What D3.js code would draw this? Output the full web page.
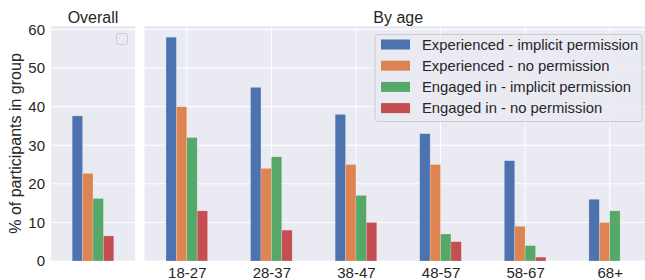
<!DOCTYPE html>
<html>
<head>
<meta charset="utf-8">
<script src="https://cdn.jsdelivr.net/npm/d3@7"></script>
<style>
  body { margin: 0; background: #fff; }
  svg { display: block; font-family: "Liberation Sans", Arial, sans-serif; }
</style>
</head>
<body>
<svg id="chart" width="645" height="280"></svg>
<script>
// ---- data ----
const seriesNames = [
  "Experienced - implicit permission",
  "Experienced - no permission",
  "Engaged in - implicit permission",
  "Engaged in - no permission"
];
const colors = ["#4C72B0", "#DD8452", "#55A868", "#C44E52"];
const overallValues = [37.6, 22.7, 16.2, 6.5];
const ageGroups = ["18-27", "28-37", "38-47", "48-57", "58-67", "68+"];
const expImplicit = [58, 45, 38, 33, 26, 16];
const expNoPerm   = [40, 24, 25, 25, 9, 10];
const engImplicit = [32, 27, 17, 7, 4, 13];
const engNoPerm   = [13, 8, 10, 5, 1, 0];
const yTicks = [0, 10, 20, 30, 40, 50, 60];

const ageSeries = [expImplicit, expNoPerm, engImplicit, engNoPerm];

const svg = d3.select("#chart");
const textColor = "#262626";
const bg = "#EAEAF2";

const plotTop = 26, plotBottom = 261;
const y = d3.scaleLinear().domain([0, 60.9]).range([plotBottom, plotTop]);

// panels
const p1 = { x0: 51, x1: 135 };
const p2 = { x0: 144.5, x1: 652 };

function panel(p) {
  const g = svg.append("g");
  g.append("rect").attr("x", p.x0).attr("y", plotTop)
    .attr("width", p.x1 - p.x0).attr("height", plotBottom - plotTop).attr("fill", bg);
  g.selectAll("line.h").data(yTicks).join("line")
    .attr("x1", p.x0).attr("x2", p.x1)
    .attr("y1", d => y(d)).attr("y2", d => y(d))
    .attr("stroke", "#fff").attr("stroke-width", 1);
  return g;
}

const g1 = panel(p1);
const g2 = panel(p2);

// Overall panel
const xo = d3.scaleBand().domain(["Overall"]).range([p1.x0, p1.x1]).paddingInner(0).paddingOuter(0);
const barW = 10.4;
const cOverall = xo("Overall") + xo.bandwidth() / 2;
g1.selectAll("rect.bar").data(overallValues).join("rect")
  .attr("x", (d, i) => cOverall + (i - 2) * barW)
  .attr("width", barW)
  .attr("y", d => y(d))
  .attr("height", d => y(0) - y(d))
  .attr("fill", (d, i) => colors[i])
  .attr("stroke", "#fff").attr("stroke-opacity", 0.35).attr("stroke-width", 0.6);

// By age panel
const xa = d3.scalePoint().domain(ageGroups).range([p2.x0, p2.x1]).padding(0.5);
// vertical grid
g2.selectAll("line.v").data(ageGroups).join("line")
  .attr("x1", d => xa(d)).attr("x2", d => xa(d))
  .attr("y1", plotTop).attr("y2", plotBottom)
  .attr("stroke", "#fff").attr("stroke-width", 1);

ageSeries.forEach((vals, si) => {
  g2.selectAll("rect.s" + si).data(vals.map((v, i) => ({ v, cat: ageGroups[i] })))
    .join("rect")
    .attr("class", "s" + si)
    .attr("x", d => xa(d.cat) + (si - 2) * barW)
    .attr("width", barW)
    .attr("y", d => y(d.v))
    .attr("height", d => y(0) - y(d.v))
    .attr("fill", colors[si])
    .attr("stroke", "#fff").attr("stroke-opacity", 0.35).attr("stroke-width", 0.6);
});

// y axis (left panel)
const yAxis = d3.axisLeft(y).tickValues(yTicks).tickSize(0).tickPadding(6);
const ya = svg.append("g").attr("transform", `translate(${p1.x0},0)`).call(yAxis);
ya.select(".domain").remove();
ya.selectAll("text").attr("fill", textColor).style("font-size", "15px")
  .style("font-family", '"Liberation Sans", Arial, sans-serif');

// x axis (by age)
const xAxis = d3.axisBottom(xa).tickSize(0).tickPadding(6);
const xg = svg.append("g").attr("transform", `translate(0,${plotBottom})`).call(xAxis);
xg.select(".domain").remove();
xg.selectAll("text").attr("fill", textColor).style("font-size", "15px")
  .style("font-family", '"Liberation Sans", Arial, sans-serif');

// titles
svg.append("text").attr("x", (p1.x0 + p1.x1) / 2).attr("y", 22.5)
  .attr("text-anchor", "middle").attr("fill", textColor).style("font-size", "16px").text("Overall");
svg.append("text").attr("x", (p2.x0 + p2.x1) / 2).attr("y", 22.5)
  .attr("text-anchor", "middle").attr("fill", textColor).style("font-size", "16px").text("By age");

// y label
svg.append("text").attr("transform", `translate(21,${(plotTop + plotBottom) / 2}) rotate(-90)`)
  .attr("text-anchor", "middle").attr("fill", textColor).style("font-size", "16px")
  .text("% of participants in group");

// empty legend in overall panel
svg.append("rect").attr("x", 116.5).attr("y", 33.5).attr("width", 11).attr("height", 11)
  .attr("rx", 2).attr("fill", bg).attr("fill-opacity", 0.8)
  .attr("stroke", "#ccc").attr("stroke-width", 1);

// legend in by-age panel
const lg = svg.append("g");
lg.append("rect").attr("x", 375).attr("y", 34.5).attr("width", 267).attr("height", 87)
  .attr("rx", 3).attr("fill", bg).attr("fill-opacity", 0.8)
  .attr("stroke", "#ccc").attr("stroke-width", 1);
const rowY = [44.5, 65.7, 86.9, 108.1];
seriesNames.forEach((name, i) => {
  lg.append("rect").attr("x", 381).attr("y", rowY[i] - 5).attr("width", 29).attr("height", 10)
    .attr("fill", colors[i]);
  lg.append("text").attr("x", 422).attr("y", rowY[i]).attr("dy", "0.36em")
    .attr("fill", textColor).style("font-size", "14.8px").text(name);
});
</script>
</body>
</html>
